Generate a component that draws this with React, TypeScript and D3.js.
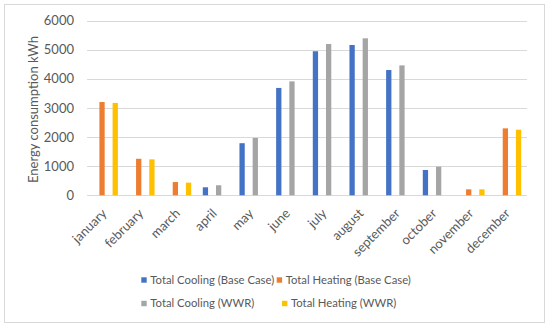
import * as d3 from 'd3';
import { useEffect, useRef } from 'react';

const months = [
  'january',
  'february',
  'march',
  'april',
  'may',
  'june',
  'july',
  'august',
  'september',
  'october',
  'november',
  'december',
];

const seriesNames = [
  'Total Cooling (Base Case)',
  'Total Heating (Base Case)',
  'Total Cooling (WWR)',
  'Total Heating (WWR)',
];

const coolingBase = [0, 0, 0, 275, 1790, 3690, 4950, 5165, 4305, 870, 0, 0];
const heatingBase = [3205, 1255, 455, 0, 0, 0, 0, 0, 0, 0, 205, 2300];
const coolingWWR = [0, 0, 0, 345, 1970, 3915, 5200, 5395, 4465, 985, 0, 0];
const heatingWWR = [3175, 1235, 435, 0, 0, 0, 0, 0, 0, 0, 205, 2255];

const yTicks = [0, 1000, 2000, 3000, 4000, 5000, 6000];

const colors = ['#4472C4', '#ED7D31', '#A5A5A5', '#FFC000'];

const W = 550;
const H = 327;
const FONT = 'Lato, "Open Sans", sans-serif';
const TEXT = '#595959';

export default function App() {
  const svgRef = useRef<SVGSVGElement>(null);

  useEffect(() => {
    if (!svgRef.current) return;
    const svg = d3.select(svgRef.current);
    svg.selectAll('*').remove();

    const values = [coolingBase, heatingBase, coolingWWR, heatingWWR];

    // outer chart border
    svg
      .append('rect')
      .attr('x', 4.5)
      .attr('y', 4.5)
      .attr('width', 540)
      .attr('height', 318)
      .attr('fill', '#fff')
      .attr('stroke', '#d9d9d9');

    const x0 = d3
      .scaleBand<string>()
      .domain(months)
      .range([87, 527])
      .paddingInner(0.28)
      .paddingOuter(0.14);

    const x1 = d3
      .scaleBand<number>()
      .domain([0, 1, 2, 3])
      .range([0, x0.bandwidth()])
      .paddingInner(0.2)
      .paddingOuter(0.1);

    const y = d3.scaleLinear().domain([0, 6000]).range([195.3, 20.7]);

    // gridlines
    svg
      .append('g')
      .selectAll('line')
      .data(yTicks)
      .join('line')
      .attr('x1', 87)
      .attr('x2', 527)
      .attr('y1', (d) => Math.round(y(d)) + 0.5)
      .attr('y2', (d) => Math.round(y(d)) + 0.5)
      .attr('stroke', '#d9d9d9')
      .attr('stroke-width', 1);

    // y tick labels
    svg
      .append('g')
      .selectAll('text')
      .data(yTicks)
      .join('text')
      .attr('x', 74)
      .attr('y', (d) => y(d))
      .attr('dy', '0.35em')
      .attr('text-anchor', 'end')
      .style('font-family', FONT)
      .style('font-size', '13px')
      .style('fill', TEXT)
      .text((d) => String(d));

    // y axis title
    svg
      .append('text')
      .attr('transform', `translate(33,109.5) rotate(-90)`)
      .attr('dy', '0.35em')
      .attr('text-anchor', 'middle')
      .style('font-family', FONT)
      .style('font-size', '13px')
      .style('fill', TEXT)
      .text('Energy consumption kWh');

    // bars
    const groups = svg
      .append('g')
      .selectAll('g')
      .data(months)
      .join('g')
      .attr('transform', (d) => `translate(${x0(d)},0)`);

    groups
      .selectAll('rect')
      .data((_, i) => values.map((s, k) => ({ k, v: s[i] })))
      .join('rect')
      .filter((d) => d.v > 0)
      .attr('x', (d) => x1(d.k) ?? 0)
      .attr('width', x1.bandwidth())
      .attr('y', (d) => y(d.v))
      .attr('height', (d) => y(0) - y(d.v))
      .attr('fill', (d) => colors[d.k]);

    // x labels, rotated
    svg
      .append('g')
      .selectAll('text')
      .data(months)
      .join('text')
      .attr('transform', (d) => {
        const cx = (x0(d) ?? 0) + x0.bandwidth() / 2;
        return `translate(${cx - 1},211) rotate(-45)`;
      })
      .attr('dy', '0.35em')
      .attr('text-anchor', 'end')
      .style('font-family', FONT)
      .style('font-size', '13px')
      .style('fill', TEXT)
      .text((d) => d);

    // legend
    const legendPos = [
      { x: 141.3, y: 280 },
      { x: 276.7, y: 280 },
      { x: 141.3, y: 303.5 },
      { x: 282, y: 303.5 },
    ];
    const legend = svg
      .append('g')
      .selectAll('g')
      .data(seriesNames)
      .join('g')
      .attr('transform', (_, i) => `translate(${legendPos[i].x},${legendPos[i].y})`);
    legend
      .append('rect')
      .attr('x', 0)
      .attr('y', -2.7)
      .attr('width', 5.4)
      .attr('height', 5.4)
      .attr('fill', (_, i) => colors[i]);
    legend
      .append('text')
      .attr('x', 9)
      .attr('dy', '0.35em')
      .style('font-family', FONT)
      .style('font-size', '11.3px')
      .style('fill', TEXT)
      .text((d) => d);
  }, []);

  return (
    <div style={{ position: 'absolute', left: 0, top: 0, width: W, height: H, background: '#fff' }}>
      <svg ref={svgRef} width={W} height={H} viewBox={`0 0 ${W} ${H}`} />
    </div>
  );
}
